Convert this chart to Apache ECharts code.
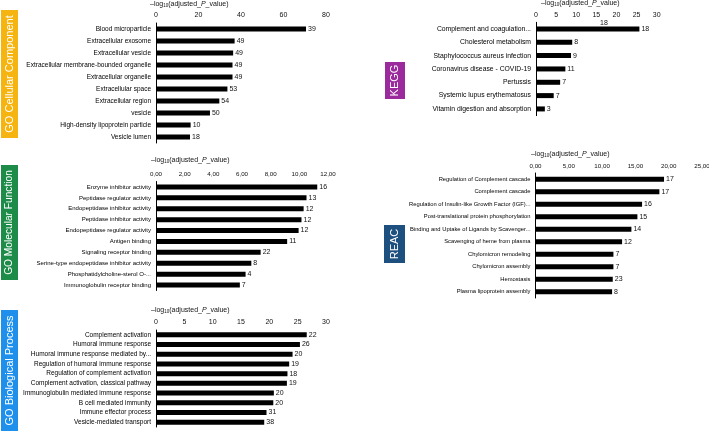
<!DOCTYPE html>
<html>
<head>
<meta charset="utf-8">
<script src="https://cdn.jsdelivr.net/npm/echarts@6/dist/echarts.min.js"></script>
<style>
  html, body { margin: 0; padding: 0; background: #fff; }
  #main { width: 709px; height: 431px; }
</style>
</head>
<body>
<div id="main"></div>
<script>
// GO Cellular Component
const ccCats = ['Blood microparticle', 'Extracellular exosome', 'Extracellular vesicle',
  'Extracellular membrane-bounded organelle', 'Extracellular organelle', 'Extracellular space',
  'Extracellular region', 'vesicle', 'High-density lipoprotein particle', 'Vesicle lumen'];
const ccValues = [70.6, 37.0, 36.3, 36.0, 36.0, 33.6, 29.8, 25.4, 16.3, 16.0];
const ccCounts = [39, 49, 49, 49, 49, 53, 54, 50, 10, 18];

// GO Molecular Function
const mfCats = ['Enzyme inhibitor activity', 'Peptidase regulator activity', 'Endopeptidase inhibitor activity',
  'Peptidase inhibitor activity', 'Endopeptidase regulator activity', 'Antigen binding',
  'Signaling receptor binding', 'Serine-type endopeptidase inhibitor activity',
  'Phosphatidylcholine-sterol O-...', 'Immunoglobulin receptor binding'];
const mfValues = [11.25, 10.5, 10.3, 10.15, 9.95, 9.15, 7.3, 6.65, 6.25, 5.85];
const mfCounts = [16, 13, 12, 12, 12, 11, 22, 8, 4, 7];

// GO Biological Process
const bpCats = ['Complement activation', 'Humoral immune response', 'Humoral immune response mediated by...',
  'Regulation of humoral immune response', 'Regulation of complement activation',
  'Complement activation, classical pathway', 'Immunoglobulin mediated immune response',
  'B cell mediated immunity', 'Immune effector process', 'Vesicle-mediated transport'];
const bpValues = [26.6, 25.4, 24.1, 23.5, 23.2, 23.1, 20.8, 20.7, 19.5, 19.1];
const bpCounts = [22, 26, 20, 19, 18, 19, 20, 20, 31, 38];

// KEGG
const keggCats = ['Complement and coagulation...', 'Cholesterol metabolism', 'Staphylococcus aureus infection',
  'Coronavirus disease - COVID-19', 'Pertussis', 'Systemic lupus erythematosus', 'Vitamin digestion and absorption'];
const keggValues = [25.7, 9.0, 8.7, 7.3, 6.0, 4.4, 2.2];
const keggCounts = [18, 8, 9, 11, 7, 7, 3];

// REAC
const reacCats = ['Regulation of Complement cascade', 'Complement cascade',
  'Regulation of Insulin-like Growth Factor (IGF)...', 'Post-translational protein phosphorylation',
  'Binding and Uptake of Ligands by Scavenger...', 'Scavenging of heme from plasma',
  'Chylomicron remodeling', 'Chylomicron assembly', 'Hemostasis', 'Plasma lipoprotein assembly'];
const reacValues = [19.3, 18.6, 16.0, 15.3, 14.4, 13.0, 11.7, 11.7, 11.6, 11.5];
const reacCounts = [17, 17, 16, 15, 14, 12, 7, 7, 23, 8];

const FONT = '"Liberation Sans", Arial, sans-serif';
const chart = echarts.init(document.getElementById('main'));

// panel layout: grid box + axis settings
const panels = [
  { cats: ccCats, vals: ccValues, counts: ccCounts, left: 156, top: 23, width: 170, height: 120, max: 80, interval: 20, comma: false, catSize: 6.5, tickSize: 7, titleX: 150, titleY: 6 },
  { cats: mfCats, vals: mfValues, counts: mfCounts, left: 156, top: 181.5, width: 172, height: 109, max: 12, interval: 2, comma: true, catSize: 6, tickSize: 6.2, titleX: 151, titleY: 162 },
  { cats: bpCats, vals: bpValues, counts: bpCounts, left: 156, top: 330, width: 170, height: 97, max: 30, interval: 5, comma: false, catSize: 6.5, tickSize: 7, titleX: 151, titleY: 312 },
  { cats: keggCats, vals: keggValues, counts: keggCounts, left: 536, top: 22.3, width: 120.7, height: 93.3, max: 30, interval: 5, comma: false, catSize: 6.8, tickSize: 7, titleX: 541, titleY: 5 },
  { cats: reacCats, vals: reacValues, counts: reacCounts, left: 535.5, top: 173, width: 166.5, height: 125, max: 25, interval: 5, comma: true, catSize: 5.8, tickSize: 6.2, titleX: 531, titleY: 156 }
];

const grids = [], xAxes = [], yAxes = [], series = [], graphics = [];

panels.forEach((p, i) => {
  grids.push({ left: p.left, top: p.top, width: p.width, height: p.height, outerBoundsMode: 'none' });
  xAxes.push({
    gridIndex: i, type: 'value', position: 'top', min: 0, max: p.max, interval: p.interval,
    axisLine: { show: false }, axisTick: { show: false }, splitLine: { show: false },
    axisLabel: {
      fontFamily: FONT, fontSize: p.tickSize, color: '#111', margin: 4,
      formatter: v => p.comma ? v.toFixed(2).replace('.', ',') : String(v)
    }
  });
  yAxes.push({
    gridIndex: i, type: 'category', data: p.cats, inverse: true,
    axisLine: { show: true, lineStyle: { color: '#000', width: 1 } },
    axisTick: { show: false },
    axisLabel: { fontFamily: FONT, fontSize: p.catSize, color: '#000', margin: 5 }
  });
  series.push({
    type: 'bar', xAxisIndex: i, yAxisIndex: i, data: p.vals, barWidth: 5,
    itemStyle: { color: '#000' },
    label: {
      show: true, position: 'right', distance: 2, fontFamily: FONT, fontSize: 7, color: '#111',
      formatter: params => String(p.counts[params.dataIndex])
    }
  });
  graphics.push({
    type: 'text', left: p.titleX, top: p.titleY - 5,
    style: {
      text: '{a|–log}{s|10}{a|(adjusted_}{i|P}{a|_value)}',
      rich: {
        a: { fontFamily: FONT, fontSize: 7, fill: '#111' },
        s: { fontFamily: FONT, fontSize: 4.5, fill: '#111', padding: [3, 0, 0, 0] },
        i: { fontFamily: FONT, fontSize: 7, fontStyle: 'italic', fill: '#111' }
      }
    }
  });
});

// stray count label above the KEGG top bar
graphics.push({ type: 'text', left: 600, top: 20, style: { text: '18', fontFamily: FONT, fontSize: 7, fill: '#111' } });

// coloured side tags
const tags = [
  { text: 'GO Cellular Component', color: '#F5B40F', x: 1, y: 10, w: 17, h: 128, size: 11 },
  { text: 'GO Molecular Function', color: '#1D8C49', x: 1, y: 165, w: 17, h: 115, size: 10.2 },
  { text: 'GO Biological Process', color: '#1E90EC', x: 1, y: 310, w: 17, h: 121, size: 11 },
  { text: 'KEGG', color: '#9B2A9D', x: 385, y: 62, w: 20, h: 37, size: 11 },
  { text: 'REAC', color: '#1D4F7F', x: 384, y: 225, w: 21, h: 38, size: 11 }
];
tags.forEach(t => {
  graphics.push({ type: 'rect', shape: { x: t.x, y: t.y, width: t.w, height: t.h }, style: { fill: t.color } });
  graphics.push({
    type: 'text', x: t.x + t.w / 2, y: t.y + t.h / 2, rotation: Math.PI / 2,
    style: { text: t.text, fontFamily: FONT, fontSize: t.size, fill: '#fff', align: 'center', verticalAlign: 'middle' }
  });
});

chart.setOption({
  animation: false,
  backgroundColor: '#fff',
  grid: grids,
  xAxis: xAxes,
  yAxis: yAxes,
  series: series,
  graphic: graphics
});
</script>
</body>
</html>
